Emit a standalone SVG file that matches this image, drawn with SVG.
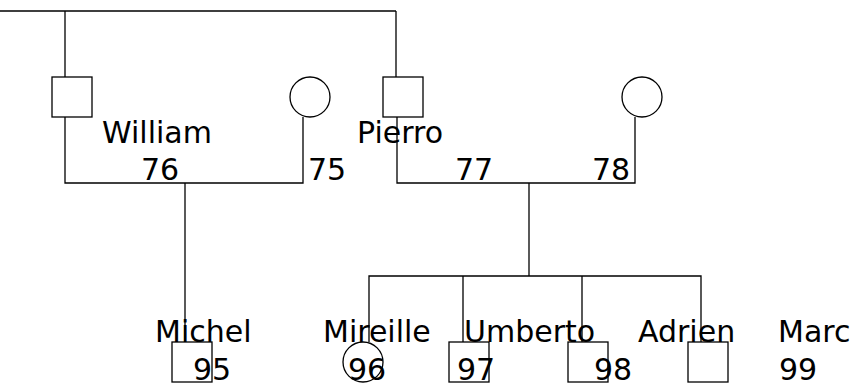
<svg xmlns="http://www.w3.org/2000/svg" width="857" height="388" viewBox="0 0 857 388">
<style>
.ln{fill:none;stroke:#000;stroke-width:1.3}
.nd{fill:#fff;stroke:#000;stroke-width:1.3}
.t{font-family:"DejaVu Sans",sans-serif;font-size:30px;fill:#000}
</style>
<rect width="857" height="388" fill="#fff"/>
<g id="connectors">
<path class="ln" d="M0 11H396M65 11V77M396 11V77"/>
<path class="ln" d="M65 117V183H303V117"/>
<path class="ln" d="M397 117V183H635V117"/>
<path class="ln" d="M185 183V342"/>
<path class="ln" d="M529 183V276"/>
<path class="ln" d="M369 342V276H701V342M463 276V342M582 276V342"/>
</g>
<g id="william"><rect class="nd" x="52" y="77" width="40" height="40"/><text class="t" x="102" y="143">William</text></g>
<g id="n76"><text class="t" x="141" y="180">76</text></g>
<g id="n75"><circle class="nd" cx="310" cy="97" r="20"/><text class="t" x="308" y="180">75</text></g>
<g id="pierro"><rect class="nd" x="383" y="77" width="40" height="40"/><text class="t" x="357" y="143">Pierro</text></g>
<g id="n77"><text class="t" x="455" y="180">77</text></g>
<g id="n78"><circle class="nd" cx="642" cy="97" r="20"/><text class="t" x="592" y="180">78</text></g>
<g id="michel"><rect class="nd" x="172" y="342" width="40" height="40"/><text class="t" x="155" y="342">Michel</text><text class="t" x="193" y="380">95</text></g>
<g id="mireille"><circle class="nd" cx="363" cy="362" r="20"/><text class="t" x="323" y="342">Mireille</text><text class="t" x="348" y="380">96</text></g>
<g id="umberto"><rect class="nd" x="449" y="342" width="40" height="40"/><text class="t" x="464" y="342">Umberto</text><text class="t" x="457" y="380">97</text></g>
<g id="n98"><rect class="nd" x="568" y="342" width="40" height="40"/><text class="t" x="594" y="380">98</text></g>
<g id="adrien"><rect class="nd" x="688" y="342" width="40" height="40"/><text class="t" x="638" y="342">Adrien</text></g>
<g id="marc"><text class="t" x="778" y="342">Marc</text><text class="t" x="779" y="380">99</text></g>
</svg>
